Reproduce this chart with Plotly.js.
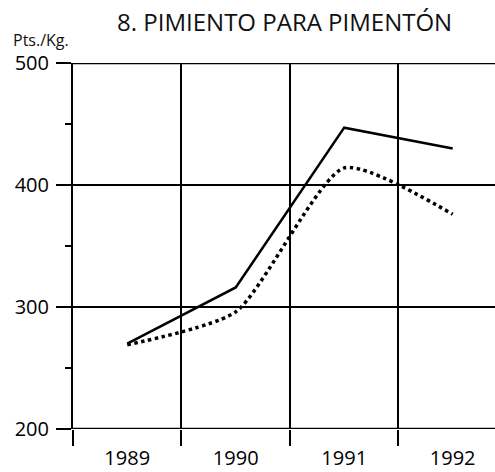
<!DOCTYPE html>
<html><head><meta charset="utf-8">
<script src="https://cdn.plot.ly/plotly-3.0.1.min.js"></script>
<style>body{margin:0;background:#fff}#c{width:495px;height:472px}</style>
</head><body><div id="c"></div>
<script>
const years = ['1989','1990','1991','1992'];
const serieSolida = [270, 316, 447, 430];
const seriePunteada = [269, 296, 414, 376];
const yTicks = [200, 300, 400, 500];

const xpos = years.map((_, i) => i);

const traces = [
  {x: xpos, y: serieSolida, mode: 'lines', line: {color: '#000', width: 2.5}, xaxis: 'x', yaxis: 'y', hoverinfo: 'skip'},
  {x: xpos, y: seriePunteada, mode: 'lines', line: {color: '#000', width: 3.5, dash: 'dot', shape: 'spline', smoothing: 0.6}, xaxis: 'x', yaxis: 'y', hoverinfo: 'skip'},
  {x: xpos, y: serieSolida, mode: 'lines', line: {color: 'rgba(0,0,0,0)', width: 0}, xaxis: 'x2', yaxis: 'y', hoverinfo: 'skip'}
];

const xr = [-0.5, 3.39];
const layout = {
  width: 495, height: 472,
  margin: {l: 73, r: 0, t: 63, b: 43},
  paper_bgcolor: '#fff', plot_bgcolor: '#fff',
  showlegend: false,
  font: {family: 'Open Sans, sans-serif', color: '#000'},
  title: {text: '8. PIMIENTO PARA PIMENTÓN', font: {size: 24, color: '#111'}, x: 0.575, xanchor: 'center', y: 0.953, yanchor: 'middle'},
  xaxis: {
    range: xr, tickvals: [-0.5, 0.5, 1.5, 2.5], ticktext: ['', '', '', ''],
    showgrid: true, gridcolor: '#000', gridwidth: 2,
    ticks: 'outside', ticklen: 16, tickwidth: 2, tickcolor: '#000',
    showline: false, zeroline: false
  },
  xaxis2: {
    overlaying: 'x', anchor: 'y', side: 'bottom', range: xr,
    tickvals: xpos, ticktext: years, ticks: '', showgrid: false, zeroline: false,
    showline: false, tickfont: {size: 20}, ticklabelstandoff: 15
  },
  yaxis: {
    range: [200, 500], tickvals: yTicks, ticktext: yTicks.map(String),
    ticks: 'outside', ticklen: 15, tickwidth: 2, tickcolor: '#000',
    minor: {tickvals: [250, 350, 450], ticks: 'outside', ticklen: 6, tickwidth: 1.5, tickcolor: '#000', showgrid: false},
    showgrid: true, gridcolor: '#000', gridwidth: 1.5,
    showline: true, linecolor: '#000', linewidth: 2, zeroline: false,
    tickfont: {size: 20}, ticklabelstandoff: 3
  },
  shapes: [
    {type: 'line', xref: 'paper', yref: 'y', x0: 0, x1: 1, y0: 500, y1: 500, line: {color: '#000', width: 2.5}},
    {type: 'line', xref: 'paper', yref: 'y', x0: 0, x1: 1, y0: 200, y1: 200, line: {color: '#000', width: 2.5}}
  ],
  annotations: [
    {text: 'Pts./Kg.', xref: 'paper', yref: 'paper', x: -0.148, y: 1.063, xanchor: 'left', yanchor: 'middle', showarrow: false, font: {size: 16, color: '#111'}}
  ]
};

Plotly.newPlot('c', traces, layout, {staticPlot: true, displayModeBar: false});
</script>
</body></html>
